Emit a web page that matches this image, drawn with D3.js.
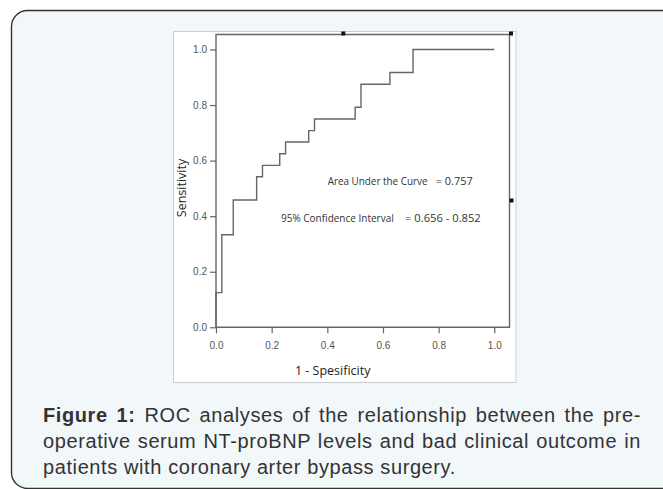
<!DOCTYPE html>
<html><head><meta charset="utf-8">
<script src="https://cdn.jsdelivr.net/npm/d3@7"></script>
<style>html,body{margin:0;padding:0;background:#fff;}svg{display:block;}</style>
</head><body>
<svg id="c" width="663" height="489"></svg>
<script>
// ROC curve corner points (stepAfter)
const fpr = [0, 0, 0.021, 0.062, 0.146, 0.167, 0.229, 0.25, 0.333, 0.354, 0.5, 0.521, 0.625, 0.708, 1.0];
const tpr = [0, 0.125, 0.333, 0.458, 0.542, 0.583, 0.625, 0.667, 0.708, 0.75, 0.792, 0.875, 0.917, 1.0, 1.0];
const xTicks = [0, 0.2, 0.4, 0.6, 0.8, 1.0];
const yTicks = [0, 0.2, 0.4, 0.6, 0.8, 1.0];
const xTitle = "1 - Spesificity";
const yTitle = "Sensitivity";
const aucLabel = ["Area Under the Curve", "= 0.757"];
const ciLabel = ["95% Confidence Interval", "= 0.656 - 0.852"];
const captionLines = [
  ["Figure 1:", " ROC analyses of the relationship between the pre-"],
  ["", "operative serum NT-proBNP levels and bad clinical outcome in"],
  ["", "patients with coronary arter bypass surgery."]
];

const svg = d3.select("#c");
// outer panel
svg.append("rect").attr("x", 11.5).attr("y", 10.5).attr("width", 700).attr("height", 478)
  .attr("rx", 16).attr("fill", "#f2f7fa").attr("stroke", "#333").attr("stroke-width", 1.4);
// chart image background
svg.append("rect").attr("x", 173.5).attr("y", 31.5).attr("width", 342.5).attr("height", 351)
  .attr("fill", "#fff").attr("stroke", "#c9cdd0").attr("stroke-width", 1);

const x = d3.scaleLinear().domain([0, 1]).range([216, 494.3]);
const y = d3.scaleLinear().domain([0, 1]).range([327.3, 49.5]);

// frame
const fr = {l: 216, r: 509.5, t: 34.5, b: 327.3};
svg.append("path").attr("d", `M${fr.l},${fr.b}V${fr.t}H${fr.r}V${fr.b}H${fr.l}`)
  .attr("fill", "none").attr("stroke", "#666").attr("stroke-width", 1.4);

// axes
const yAxis = svg.append("g").attr("transform", `translate(${fr.l},0)`)
  .call(d3.axisLeft(y).tickValues(yTicks).tickFormat(d3.format(".1f")).tickSize(6).tickPadding(3));
const xAxis = svg.append("g").attr("transform", `translate(0,${fr.b})`)
  .call(d3.axisBottom(x).tickValues(xTicks).tickFormat(d3.format(".1f")).tickSize(6).tickPadding(9));
[yAxis, xAxis].forEach(g => {
  g.select(".domain").remove();
  g.selectAll(".tick line").attr("stroke", "#666").attr("stroke-width", 1.2);
  g.selectAll(".tick text").attr("fill", "#555").attr("font-family", "Liberation Sans, Arial, sans-serif").attr("font-size", 10);
});

// ROC line
const pts = fpr.map((d, i) => [d, tpr[i]]);
svg.append("path").datum(pts)
  .attr("d", d3.line().x(d => x(d[0])).y(d => y(d[1])).curve(d3.curveStepAfter))
  .attr("fill", "none").attr("stroke", "#666").attr("stroke-width", 1.4);

// handles
[[343.3, 33.5], [511, 33.5], [511.5, 200.5]].forEach(p => {
  svg.append("rect").attr("x", p[0] - 2).attr("y", p[1] - 2).attr("width", 4).attr("height", 4).attr("fill", "#111");
});

// annotation texts
const annFont = "'Open Sans', 'Noto Sans', sans-serif";
svg.append("text").attr("x", 327.7).attr("y", 184.5).attr("font-family", annFont).attr("font-size", 9.9).attr("fill", "#333").text(aucLabel[0]);
svg.append("text").attr("x", 435.7).attr("y", 185).attr("font-family", annFont).attr("font-size", 11).attr("fill", "#333").text(aucLabel[1]);
svg.append("text").attr("x", 281).attr("y", 221.5).attr("font-family", annFont).attr("font-size", 10).attr("fill", "#333").text(ciLabel[0]);
svg.append("text").attr("x", 405).attr("y", 222).attr("font-family", annFont).attr("font-size", 11.2).attr("fill", "#333").text(ciLabel[1]);

// axis titles
svg.append("text").attr("x", 332.7).attr("y", 374.5).attr("text-anchor", "middle")
  .attr("font-family", annFont).attr("font-size", 12.5).attr("fill", "#222").text(xTitle);
svg.append("text").attr("transform", "translate(185.5,188) rotate(-90)").attr("text-anchor", "middle")
  .attr("font-family", annFont).attr("font-size", 12.5).attr("fill", "#222").text(yTitle);

// caption
const capY = [422, 448, 474];
captionLines.forEach((ln, i) => {
  const t = svg.append("text").attr("x", 43).attr("y", capY[i])
    .attr("font-family", "Liberation Sans, Arial, sans-serif").attr("font-size", 20)
    .attr("letter-spacing", 0.6).attr("fill", "#333");
  if (ln[0]) t.append("tspan").attr("font-weight", "bold").text(ln[0]);
  t.append("tspan").text(ln[1]);
  if (i < 2) {
    const len = t.node().getComputedTextLength();
    const spaces = (ln[0] + ln[1]).split(" ").length - 1;
    t.attr("word-spacing", Math.max(0, (598 - len) / spaces));
  }
});
</script>
</body></html>
